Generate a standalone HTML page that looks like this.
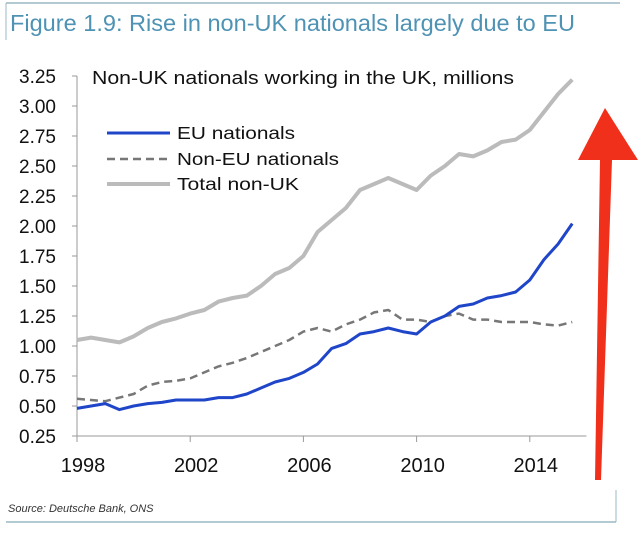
<!DOCTYPE html>
<html><head><meta charset="utf-8"><style>
body{margin:0;background:#fff;width:640px;height:533px;overflow:hidden;font-family:"Liberation Sans",sans-serif}
</style></head><body>
<svg width="640" height="533" style="position:absolute;left:0;top:0">
<line x1="6" y1="3" x2="620" y2="3" stroke="#9ab8c4" stroke-width="1.5"/>
<line x1="6" y1="3" x2="6" y2="40" stroke="#9ab8c4" stroke-width="1"/>
<text x="10" y="31" font-size="23" textLength="565" lengthAdjust="spacingAndGlyphs" fill="#4f93b4">Figure 1.9: Rise in non-UK nationals largely due to EU</text>
<text x="92" y="84" font-size="18.5" textLength="422" lengthAdjust="spacingAndGlyphs" fill="#111">Non-UK nationals working in the UK, millions</text>
<g id="axes"></g>
<g id="series"></g>
<g>
<line x1="107" y1="133" x2="170" y2="133" stroke="#1f45c8" stroke-width="3"/>
<text x="177" y="139" font-size="17.5" textLength="118" lengthAdjust="spacingAndGlyphs" fill="#111">EU nationals</text>
<line x1="107" y1="159" x2="170" y2="159" stroke="#777" stroke-width="2.5" stroke-dasharray="8,5"/>
<text x="177" y="165" font-size="17.5" textLength="162" lengthAdjust="spacingAndGlyphs" fill="#111">Non-EU nationals</text>
<line x1="107" y1="184" x2="170" y2="184" stroke="#bbb" stroke-width="4"/>
<text x="177" y="190" font-size="17.5" textLength="122" lengthAdjust="spacingAndGlyphs" fill="#111">Total non-UK</text>
</g>
<path d="M595,480 L600,160 L578,160 L605,108 L638,160 L612,160 L601,480 Z" fill="#f0301a"/>
<text x="8" y="512" font-size="11" font-style="italic" fill="#333">Source: Deutsche Bank, ONS</text>
<line x1="6" y1="522" x2="616" y2="522" stroke="#9ab8c4" stroke-width="1.5"/>
<line x1="616" y1="490" x2="616" y2="522" stroke="#9ab8c4" stroke-width="1"/>
</svg>
<script>
const years=[1998,1998.5,1999,1999.5,2000,2000.5,2001,2001.5,2002,2002.5,2003,2003.5,2004,2004.5,2005,2005.5,2006,2006.5,2007,2007.5,2008,2008.5,2009,2009.5,2010,2010.5,2011,2011.5,2012,2012.5,2013,2013.5,2014,2014.5,2015,2015.5];
const totalVals=[1.05,1.07,1.05,1.03,1.08,1.15,1.2,1.23,1.27,1.3,1.37,1.4,1.42,1.5,1.6,1.65,1.75,1.95,2.05,2.15,2.3,2.35,2.4,2.35,2.3,2.42,2.5,2.6,2.58,2.63,2.7,2.72,2.8,2.95,3.1,3.22];
const euVals=[0.48,0.5,0.52,0.47,0.5,0.52,0.53,0.55,0.55,0.55,0.57,0.57,0.6,0.65,0.7,0.73,0.78,0.85,0.98,1.02,1.1,1.12,1.15,1.12,1.1,1.2,1.25,1.33,1.35,1.4,1.42,1.45,1.55,1.72,1.85,2.02];
const nonEuVals=[0.56,0.55,0.54,0.57,0.6,0.67,0.7,0.71,0.73,0.78,0.83,0.86,0.9,0.95,1.0,1.05,1.12,1.15,1.12,1.18,1.22,1.28,1.3,1.22,1.22,1.2,1.25,1.27,1.22,1.22,1.2,1.2,1.2,1.18,1.17,1.2];
const yTicks=[0.25,0.5,0.75,1.0,1.25,1.5,1.75,2.0,2.25,2.5,2.75,3.0,3.25];
const xTicks=[1998,2002,2006,2010,2014];
const X=v=>77+(v-1998)*28.3, Y=v=>436-(v-0.25)*120;
const NS="http://www.w3.org/2000/svg";
function mk(t,a,p){const e=document.createElementNS(NS,t);for(const k in a)e.setAttribute(k,a[k]);p.appendChild(e);return e;}
const ax=document.getElementById('axes');
const yl=mk('line',{x1:X(1998),y1:Y(3.25),x2:X(1998),y2:Y(0.25),stroke:'#999'},ax);


const xl=mk('line',{x1:X(1998),y1:Y(0.25),x2:X(2016),y2:Y(0.25),stroke:'#999'},ax);


yTicks.forEach(v=>{mk('line',{x1:X(1998)-5,y1:Y(v),x2:X(1998),y2:Y(v),stroke:'#999'},ax);
const t=mk('text',{x:56,y:Y(v)+7,'font-size':19,'text-anchor':'end',fill:'#111'},ax);t.textContent=v.toFixed(2);

});
xTicks.forEach(v=>{mk('line',{x1:X(v),y1:Y(0.25),x2:X(v),y2:Y(0.25)+6,stroke:'#999'},ax);
const t=mk('text',{x:X(v)+6,y:472,'font-size':20,'text-anchor':'middle',fill:'#111'},ax);t.textContent=v;

});
const sg=document.getElementById('series');
function line(vals,col,w,dash,name){const p=mk('polyline',{points:vals.map((v,i)=>X(years[i])+','+Y(v)).join(' '),fill:'none',stroke:col,'stroke-width':w,'stroke-linejoin':'round'},sg);
if(dash)p.setAttribute('stroke-dasharray',dash);

}
line(totalVals,'#bbb',4,null,'total-line');
line(nonEuVals,'#777',2.5,'8,5','non-eu-line');
line(euVals,'#1f45c8',3,null,'eu-line');
</script>
</body></html>
